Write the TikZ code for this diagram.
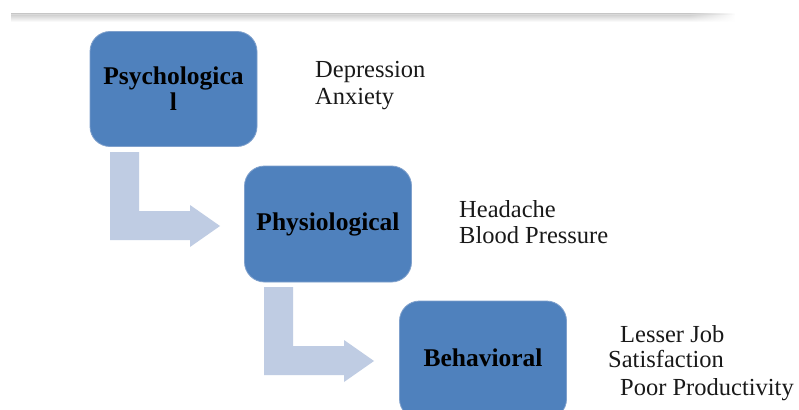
\documentclass[tikz,border=0pt]{standalone}
\usepackage{fontspec}
\setmainfont{Liberation Serif}
\usetikzlibrary{fadings}
\definecolor{boxblue}{HTML}{4F81BD}
\definecolor{boxedge}{HTML}{7FA0CC}
\definecolor{arrowblue}{HTML}{BFCCE3}
\tikzset{
  stage/.style={draw=boxedge, line width=0.8pt, fill=boxblue, rounded corners=20pt,
    minimum width=167pt, minimum height=116pt, align=center, inner sep=0pt,
    font=\bfseries\fontsize{25.5}{26}\selectfont, text=black},
  effect/.style={anchor=base west, inner sep=0pt, font=\fontsize{24.5}{27}\selectfont, text=black!90},
  bentarrow/.style={fill=arrowblue, draw=none}
}
\begin{document}
\begin{tikzpicture}[x=1pt,y=-1pt]
\clip (0,0) rectangle (799,409);
\fill[white] (0,0) rectangle (799,409);
% top shadow line
\shade[top color=black!20, bottom color=white] (11,14) rectangle (690,22);
\shade[top color=black!20, bottom color=white, path fading=east] (689.5,14) rectangle (735,22);
\draw[black!15, line width=0.6pt] (11,14) -- (690,14);
\draw[black!15, line width=0.6pt, path fading=east] (689.5,14) -- (735,14);
% bent arrows
\fill[bentarrow] (110,152) -- (139,152) -- (139,211) -- (190,211) -- (190,205) -- (220,226) -- (190,247) -- (190,240) -- (110,240) -- cycle;
\fill[bentarrow] (264,287) -- (293,287) -- (293,346) -- (344,346) -- (344,340) -- (374,361) -- (344,382) -- (344,375) -- (264,375) -- cycle;
% boxes
\node[stage, minimum height=115pt] (psy) at (173.5,89) {Psychologica\\l};
\node[stage, text height=19pt, text depth=5.4pt] (phy) at (328,224) {Physiological};
\node[stage, minimum height=118pt, text height=19pt, text depth=5.4pt] (beh) at (483,360) {Behavioral};
% effects
\node[effect] (dep) at (315,78) {Depression};
\node[effect] (anx) at (315,105) {Anxiety};
\node[effect] (hea) at (459,217) {Headache};
\node[effect] (blo) at (459,243) {Blood Pressure};
\node[effect] (les) at (620,342) {Lesser Job};
\node[effect] (sat) at (608,367) {Satisfaction};
\node[effect] (poo) at (620,395) {Poor Productivity};
\end{tikzpicture}
\end{document}
